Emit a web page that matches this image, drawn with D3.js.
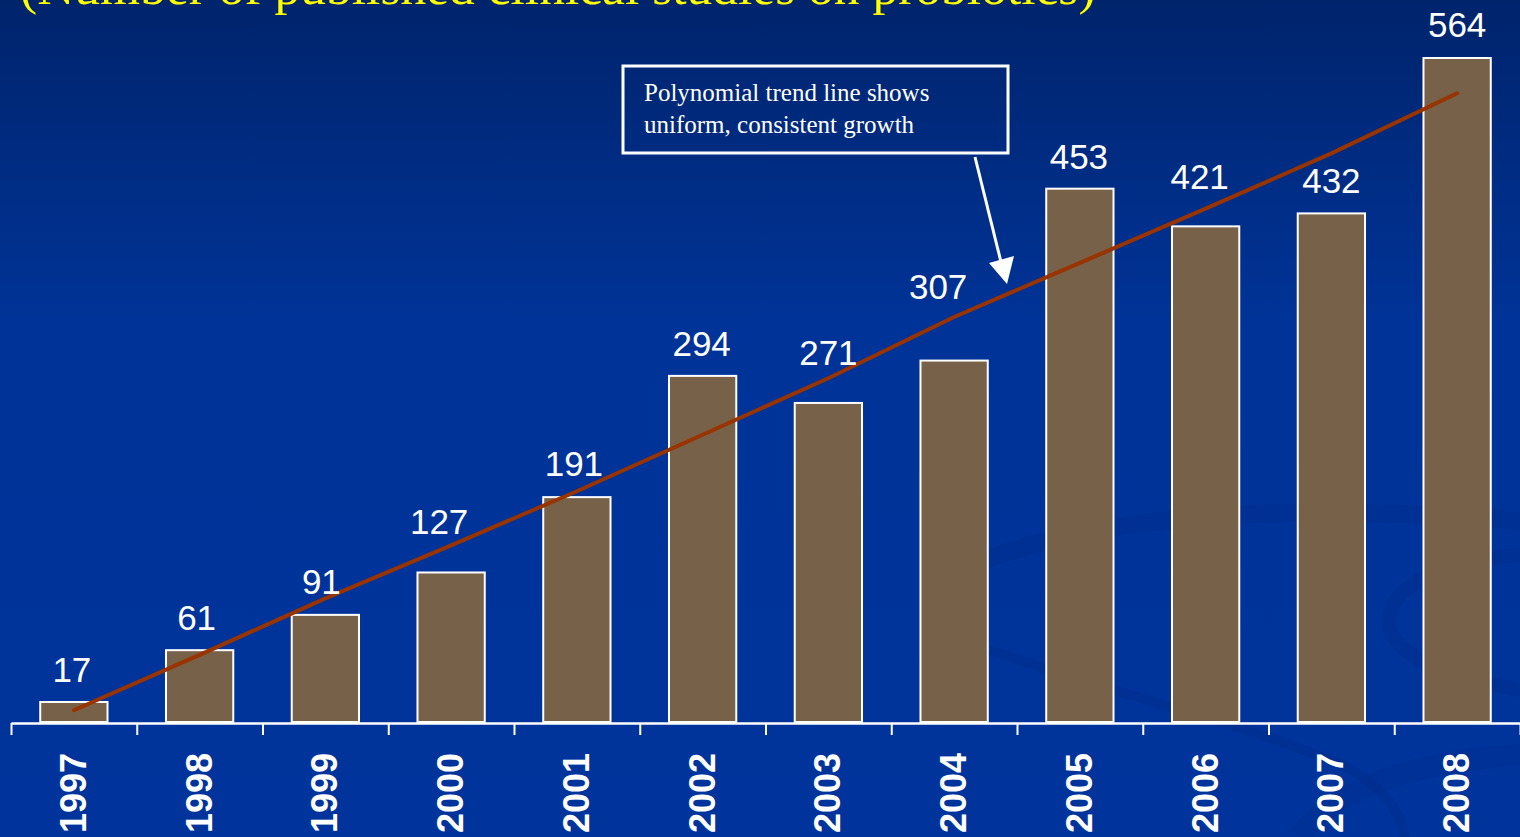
<!DOCTYPE html>
<html>
<head>
<meta charset="utf-8">
<script src="https://cdn.jsdelivr.net/npm/d3@7"></script>
<style>
  html, body { margin: 0; padding: 0; overflow: hidden; background: #003399; }
  svg { display: block; }
</style>
</head>
<body>
<svg id="chart" width="1520" height="837"></svg>
<script>
// Published clinical studies on probiotics, by year
const years = ["1997", "1998", "1999", "2000", "2001", "2002", "2003", "2004", "2005", "2006", "2007", "2008"];
const studies = [17, 61, 91, 127, 191, 294, 271, 307, 453, 421, 432, 564];
// Polynomial trend line values at each year
const trend = [10, 57, 105, 150, 196, 244, 292, 344, 390, 436, 483, 534];

const titleText = "(Number of published clinical studies on probiotics)";
const noteLines = ["Polynomial trend line shows", "uniform, consistent growth"];

// Value-label nudges (px): [dx from bar centre, gap above bar top]
const labelNudge = [[-2, 20], [-3, 20], [-4, 21], [-12, 38], [-3, 21], [-1, 20],
                    [0, 38], [-16, 62], [-1, 20], [-6, 37], [0, 20], [0, 21]];

const W = 1520, H = 837;
const baseY = 722;
const svg = d3.select("#chart");
const defs = svg.append("defs");

// Background: deep blue vertical gradient
const bg = defs.append("linearGradient").attr("id", "bg").attr("x1", 0).attr("y1", 0).attr("x2", 0).attr("y2", 1);
bg.append("stop").attr("offset", 0).attr("stop-color", "#00246c");
bg.append("stop").attr("offset", 0.38).attr("stop-color", "#003397");
bg.append("stop").attr("offset", 1).attr("stop-color", "#00349c");
svg.append("rect").attr("width", W).attr("height", H).attr("fill", "url(#bg)");

// Faint swirl decoration in the lower right
const swirl = svg.append("g").attr("fill", "none").attr("stroke", "#002c8c").attr("stroke-opacity", 0.45);
swirl.append("path").attr("stroke-width", 18)
  .attr("d", "M985,560 C1120,510 1300,505 1520,520");
swirl.append("path").attr("stroke-width", 10)
  .attr("d", "M990,650 C1100,690 1230,720 1330,760 C1380,780 1400,810 1405,837");
swirl.append("path").attr("stroke-width", 14)
  .attr("d", "M1520,555 C1440,560 1380,590 1390,630 C1400,660 1460,680 1520,690");
swirl.append("path").attr("stroke-width", 22).attr("stroke-opacity", 0.3)
  .attr("d", "M1300,837 C1330,790 1420,760 1520,755");

// Title (runs off the top edge)
svg.append("text")
  .attr("x", 20).attr("y", 4)
  .attr("font-family", "'Liberation Serif', 'Times New Roman', serif")
  .attr("font-size", 51.5)
  .attr("fill", "#ffff00")
  .text(titleText);

// Scales
const x = d3.scaleBand().domain(years).range([11, 1520]).paddingInner(0.465).paddingOuter(0.2325);
const y = d3.scaleLinear().domain([0, 600]).range([baseY, baseY - 600 * (664 / 564)]);
const cx = d => x(d) + x.bandwidth() / 2;

// Bars
svg.append("g").selectAll("rect").data(years).join("rect")
  .attr("x", d => x(d))
  .attr("y", (d, i) => y(studies[i]))
  .attr("width", x.bandwidth())
  .attr("height", (d, i) => baseY - y(studies[i]))
  .attr("fill", "#786149")
  .attr("stroke", "#ffffff")
  .attr("stroke-width", 2);

// Axis with ticks at band boundaries
const edge = d3.scaleLinear().domain([0, years.length]).range([11, 1520]);
const axis = svg.append("g").attr("transform", `translate(0,${baseY + 1})`)
  .call(d3.axisBottom(edge).tickValues(d3.range(0, years.length + 1)).tickSize(12).tickSizeOuter(0).tickFormat(""));
axis.select(".domain").attr("stroke", "#ffffff").attr("stroke-width", 2.5);
axis.selectAll(".tick line").attr("stroke", "#ffffff").attr("stroke-width", 2);

// Year labels, rotated
svg.append("g").selectAll("text").data(years).join("text")
  .attr("transform", d => `translate(${cx(d) + 12},753) rotate(-90)`)
  .attr("text-anchor", "end")
  .attr("font-family", "'Liberation Sans', Arial, sans-serif")
  .attr("font-weight", "bold")
  .attr("font-size", 36)
  .attr("fill", "#ffffff")
  .text(d => d);

// Trend line
const line = d3.line().x((v, i) => cx(years[i])).y(v => y(v));
svg.append("path").datum(trend)
  .attr("d", line)
  .attr("fill", "none")
  .attr("stroke", "#993300")
  .attr("stroke-width", 4)
  .attr("stroke-linecap", "round")
  .attr("stroke-linejoin", "round");

// Value labels
svg.append("g").selectAll("text").data(years).join("text")
  .attr("x", (d, i) => cx(d) + labelNudge[i][0])
  .attr("y", (d, i) => y(studies[i]) - labelNudge[i][1])
  .attr("text-anchor", "middle")
  .attr("font-family", "'Liberation Sans', Arial, sans-serif")
  .attr("font-size", 35)
  .attr("fill", "#ffffff")
  .text((d, i) => studies[i]);

// Callout box
const note = svg.append("g");
note.append("rect")
  .attr("x", 623).attr("y", 66).attr("width", 385).attr("height", 87)
  .attr("fill", "none").attr("stroke", "#ffffff").attr("stroke-width", 3);
note.selectAll("text").data(noteLines).join("text")
  .attr("x", 644).attr("y", (d, i) => 101 + i * 32)
  .attr("font-family", "'Liberation Serif', 'Times New Roman', serif")
  .attr("font-size", 25)
  .attr("fill", "#ffffff")
  .text(d => d);

// Callout arrow
note.append("line")
  .attr("x1", 975).attr("y1", 157).attr("x2", 1001).attr("y2", 262)
  .attr("stroke", "#ffffff").attr("stroke-width", 3);
note.append("path")
  .attr("d", "M989,263 L1014,256 L1007,284 Z")
  .attr("fill", "#ffffff");
</script>
</body>
</html>
